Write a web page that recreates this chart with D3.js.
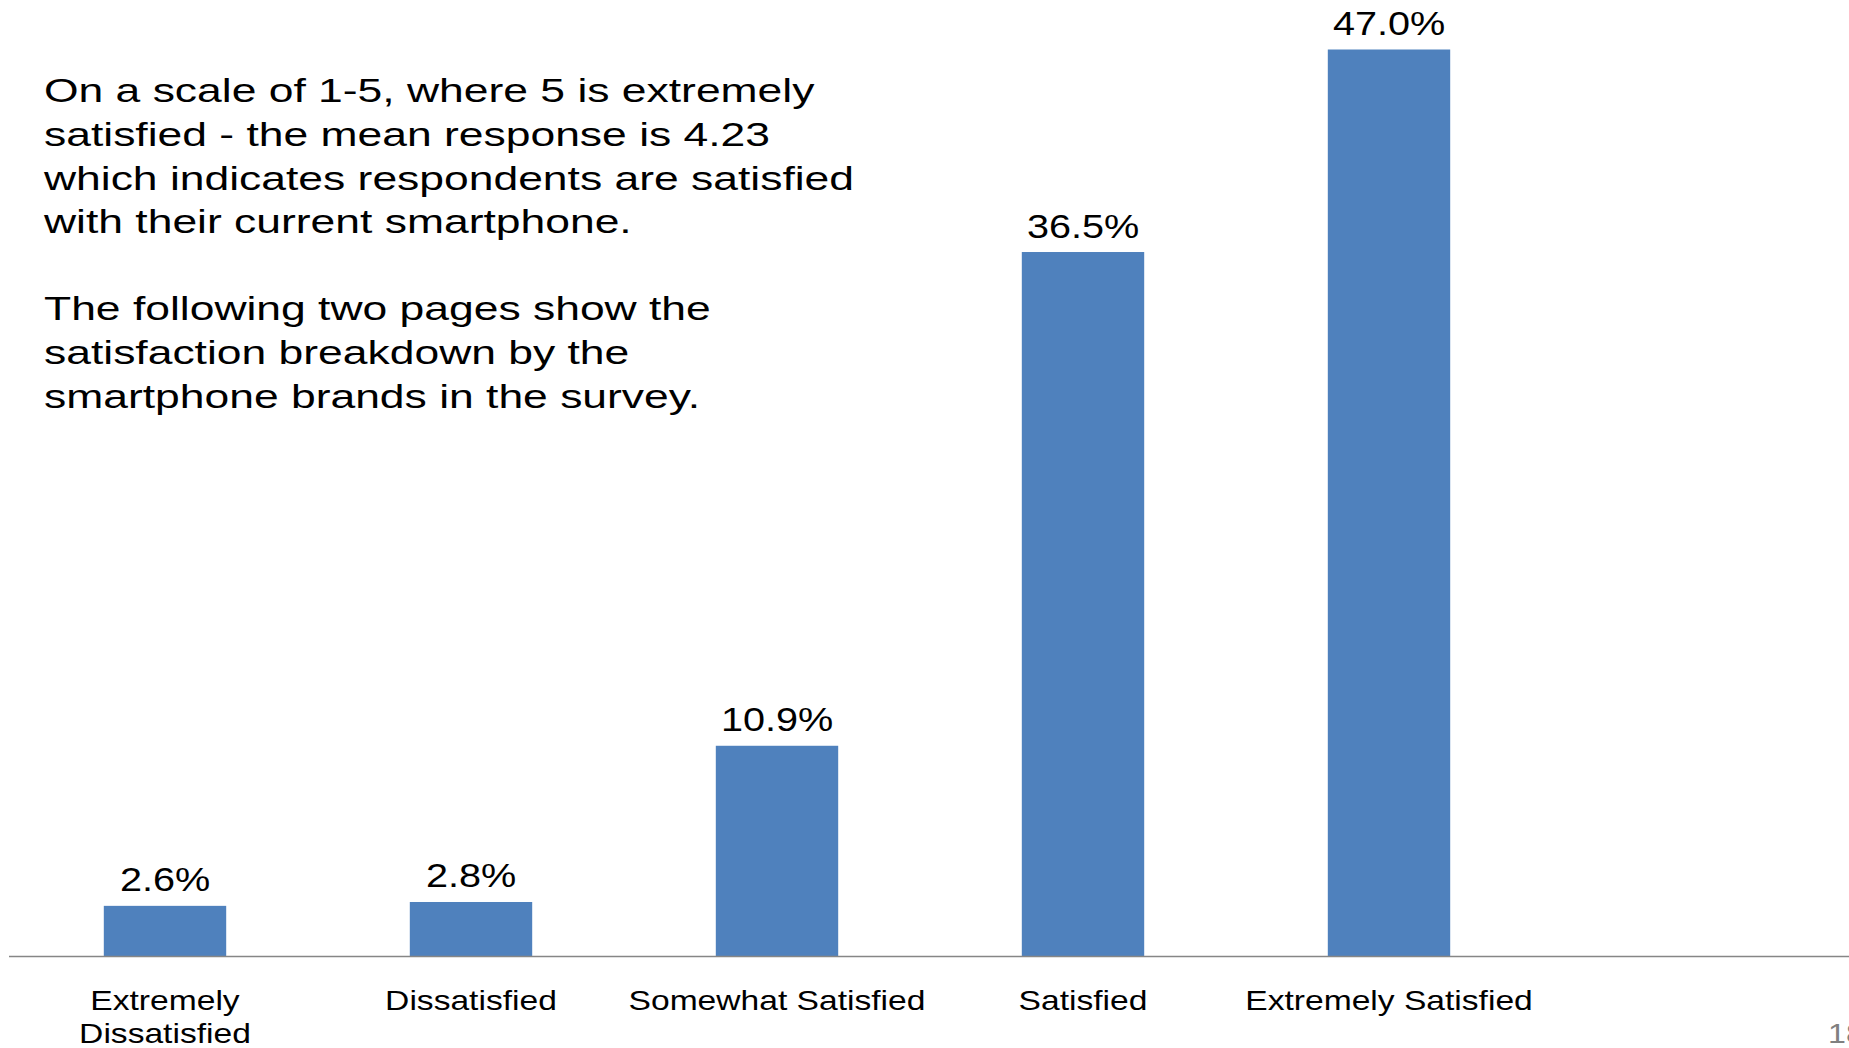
<!DOCTYPE html>
<html>
<head>
<meta charset="utf-8">
<script src="https://cdn.jsdelivr.net/npm/d3@7"></script>
<style>
  body { margin: 0; background: #fff; overflow: hidden; }
  svg { display: block; font-family: "Liberation Sans", Arial, sans-serif; }
</style>
</head>
<body>
<script>
// chart data
var categories = ["Extremely Dissatisfied", "Dissatisfied", "Somewhat Satisfied", "Satisfied", "Extremely Satisfied"];
var labelLines = [["Extremely", "Dissatisfied"], ["Dissatisfied"], ["Somewhat Satisfied"], ["Satisfied"], ["Extremely Satisfied"]];
var values = [2.6, 2.8, 10.9, 36.5, 47.0];
var noteLines = [
  "On a scale of 1-5, where 5 is extremely",
  "satisfied - the mean response is 4.23",
  "which indicates respondents are satisfied",
  "with their current smartphone.",
  "",
  "The following two pages show the",
  "satisfaction breakdown by the",
  "smartphone brands in the survey."
];
var pageNumber = "18";

var width = 1849, height = 1048;
var BASE_Y = 956;      // axis line
var BAR_COLOR = "#4f81bd";
var STRETCH = 1.2;     // text in the slide is a bit wide

var svg = d3.select("body").append("svg")
  .attr("width", width)
  .attr("height", height);

var x = d3.scaleBand()
  .domain(categories)
  .range([12, 1542])
  .paddingInner(0.6)
  .paddingOuter(0.3);

var y = d3.scaleLinear()
  .domain([0, 47])
  .range([BASE_Y, 49.5]);

//---------------- bars --------------------
var gBars = svg.append("g").attr("id", "bars");
gBars.selectAll("rect")
  .data(values)
  .enter().append("rect")
  .attr("x", function(d, i){ return x(categories[i]); })
  .attr("y", function(d){ return y(d); })
  .attr("width", x.bandwidth())
  .attr("height", function(d){ return BASE_Y - y(d); })
  .style("fill", BAR_COLOR);

// value labels
gBars.selectAll("text")
  .data(values)
  .enter().append("text")
  .text(function(d){ return d.toFixed(1) + "%"; })
  .style("text-anchor", "middle")
  .style("font-size", "33px")
  .style("fill", "#000")
  .attr("transform", function(d, i){
    return "translate(" + (x(categories[i]) + x.bandwidth()/2) + "," + (y(d) - 14.5) + ") scale(" + STRETCH + ",1)";
  });

//---------------- axis --------------------
svg.append("line")
  .attr("x1", 9).attr("x2", width)
  .attr("y1", BASE_Y + 0.5).attr("y2", BASE_Y + 0.5)
  .style("stroke", "#868686")
  .style("stroke-width", 1.6);

var gCats = svg.append("g").attr("id", "categories");
labelLines.forEach(function(lines, i){
  var cx = x(categories[i]) + x.bandwidth()/2;
  lines.forEach(function(line, j){
    gCats.append("text")
      .text(line)
      .style("text-anchor", "middle")
      .style("font-size", "27px")
      .style("fill", "#000")
      .attr("transform", "translate(" + cx + "," + (1010 + j*33) + ") scale(1.245,1)");
  });
});

//---------------- note text --------------------
var gNote = svg.append("g").attr("id", "note");
noteLines.forEach(function(line, i){
  if (!line) return;
  gNote.append("text")
    .text(line)
    .style("font-size", "33px")
    .style("fill", "#000")
    .attr("transform", "translate(44," + (102.3 + i*43.6) + ") scale(1.347,1)");
});

// page number, cut by the right edge
svg.append("text")
  .text(pageNumber)
  .style("font-size", "28px")
  .style("fill", "#808080")
  .attr("transform", "translate(1828,1043) scale(1.15,1)");
</script>
</body>
</html>
